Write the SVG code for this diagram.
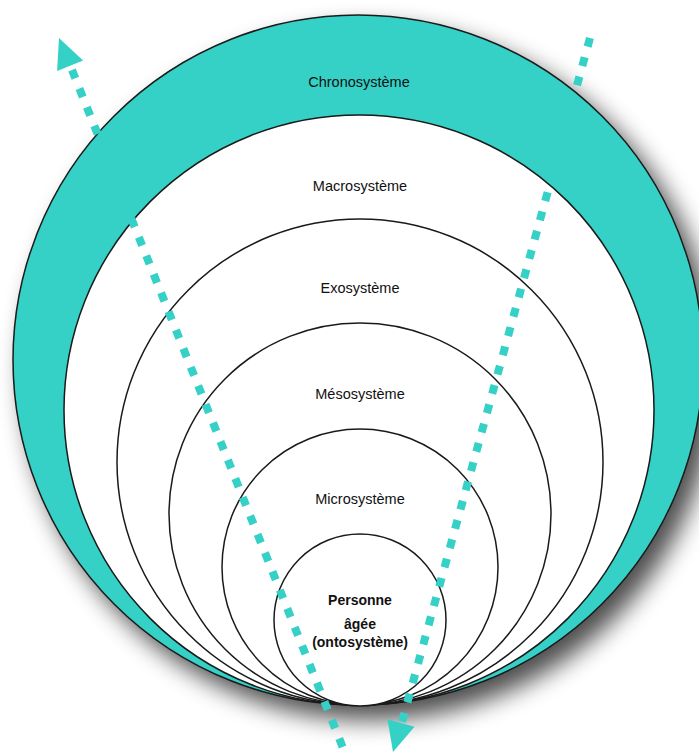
<svg xmlns="http://www.w3.org/2000/svg" width="699" height="753" viewBox="0 0 699 753">
<defs>
<filter id="sh" x="-20%" y="-20%" width="140%" height="140%">
<feGaussianBlur in="SourceAlpha" stdDeviation="12"/>
<feOffset dx="12" dy="14" result="b"/>
<feComponentTransfer><feFuncA type="linear" slope="0.7"/></feComponentTransfer>
<feMerge><feMergeNode/><feMergeNode in="SourceGraphic"/></feMerge>
</filter>
</defs>
<style>
.ring{stroke:#1a1a1a;stroke-width:1.5}
.w{fill:#ffffff}
.t{fill:#35D0C6}
.lbl{font-family:"Liberation Sans",Arial,sans-serif;font-size:14.5px;fill:#111;text-anchor:middle}
.b{font-weight:bold;font-size:14px}
.dash{stroke:#35D0C6;stroke-width:8;stroke-dasharray:9 11;fill:none}
.head{fill:#35D0C6}
</style>
<rect width="699" height="753" fill="#fff"/>
<g id="chronosysteme">
<circle class="ring t" cx="358" cy="360" r="345" filter="url(#sh)"/>
<text class="lbl" x="359" y="87">Chronosystème</text>
</g>
<g id="macrosysteme">
<circle class="ring w" cx="359" cy="410" r="295"/>
<text class="lbl" x="360" y="191">Macrosystème</text>
</g>
<g id="exosysteme">
<circle class="ring w" cx="360" cy="462" r="243"/>
<text class="lbl" x="360" y="293">Exosystème</text>
</g>
<g id="mesosysteme">
<circle class="ring w" cx="360" cy="514" r="191"/>
<text class="lbl" x="360" y="399">Mésosystème</text>
</g>
<g id="microsysteme">
<circle class="ring w" cx="360" cy="567" r="138"/>
<text class="lbl" x="360" y="504">Microsystème</text>
</g>
<g id="personne">
<circle class="ring w" cx="360" cy="620" r="86"/>
<text class="lbl b" x="360" y="605">Personne</text>
<text class="lbl b" x="360" y="629">âgée</text>
<text class="lbl b" x="360" y="647">(ontosystème)</text>
</g>
<g id="connectors">
<line class="dash" x1="72" y1="70" x2="345" y2="753"/>
<polygon class="head" points="59,38 83.1,60.6 57.1,71"/>
<line class="dash" x1="590" y1="38" x2="402" y2="722"/>
<polygon class="head" points="393,752 414.5,726.7 387.5,719.3"/>
</g>
</svg>
